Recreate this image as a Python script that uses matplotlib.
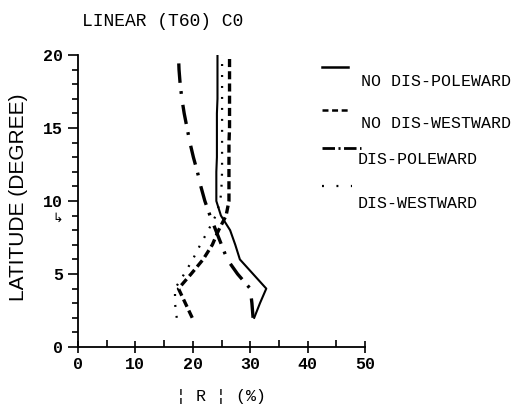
"""
Linear response (T60) C0 : |R| against latitude
"""

import matplotlib
matplotlib.use('Agg')
import matplotlib.pyplot as plt
from matplotlib.lines import Line2D

plt.rcParams['lines.scale_dashes'] = False

#################################
# Data
# -------------------------------

latitude = [2, 3, 4, 5, 6, 7, 8, 9, 10, 11, 12, 13, 14, 15, 16, 17, 18, 19, 20]

nodis_poleward = [30.7, 31.7, 32.8, 30.5, 28.2, 27.4, 26.5, 24.9, 24.1, 24.1, 24.1,
                  24.2, 24.2, 24.2, 24.2, 24.3, 24.3, 24.3, 24.3]
nodis_westward = [19.9, 18.7, 17.5, 19.7, 21.8, 23.4, 24.5, 25.8, 26.3, 26.3, 26.3,
                  26.3, 26.3, 26.4, 26.4, 26.4, 26.4, 26.4, 26.4]
dis_poleward = [30.5, 30.3, 30.0, 27.8, 26.0, 25.0, 24.0, 23.0, 22.1, 21.4, 20.8,
                20.1, 19.5, 19.0, 18.5, 18.1, 17.8, 17.6, 17.5]
dis_westward = [17.2, 16.9, 16.9, 18.5, 20.0, 21.3, 22.7, 24.0, 24.8, 25.0, 25.1,
                25.1, 25.1, 25.1, 25.1, 25.1, 25.1, 25.1, 25.1]

labels = ['NO DIS-POLEWARD', 'NO DIS-WESTWARD', 'DIS-POLEWARD', 'DIS-WESTWARD']
x_ticks = [0, 10, 20, 30, 40, 50]
y_ticks = [0, 5, 10, 15, 20]

styles = [dict(lw=1.5, ls='-'),
          dict(lw=2.4, ls=(0, (5.8, 3.0))),
          dict(lw=2.4, ls=(0, (14, 8, 2, 6))),
          dict(lw=1.6, ls=(0, (1.4, 6.5)))]
# the legend samples are short, so they get their own dash lengths
legend_styles = [dict(lw=1.8, ls='-'),
                 dict(lw=1.8, ls=(0, (4.3, 2.6))),
                 dict(lw=2.0, ls=(0, (9, 2.5, 1.5, 2.5))),
                 dict(lw=1.6, ls=(0, (1.4, 9)))]
legend_len = [26, 26, 39, 30]

#################################
# Figure
# -------------------------------

W, H = 517, 408
fig = plt.figure(figsize=(W / 100, H / 100), dpi=100)
ax = fig.add_axes([78 / W, 1 - 347 / H, (365 - 78) / W, (347 - 55) / H])

series = [nodis_poleward, nodis_westward, dis_poleward, dis_westward]
for vals, st in zip(series, styles):
    ax.plot(vals, latitude, color='black', **st)

ax.set_xlim(0, 50)
ax.set_ylim(0, 20)
ax.set_xticks(x_ticks)
ax.set_yticks(y_ticks)
ax.set_xticks(range(5, 50, 10), minor=True)
ax.set_yticks([v for v in range(0, 21) if v % 5], minor=True)

mono = dict(family='Liberation Mono', fontsize=12, fontweight='bold')
ax.set_xticklabels([str(v) for v in x_ticks], **mono)
ax.set_yticklabels([str(v) for v in y_ticks], **mono)
ax.tick_params(axis='x', which='major', direction='inout', length=9, width=1.2, pad=3)
ax.tick_params(axis='x', which='minor', direction='in', length=5, width=1.2)
ax.tick_params(axis='y', which='major', direction='out', length=7, width=1.2, pad=4)
ax.tick_params(axis='y', which='minor', direction='out', length=4, width=1.2)

for side in ('top', 'right'):
    ax.spines[side].set_visible(False)
for side in ('left', 'bottom'):
    ax.spines[side].set_linewidth(1.3)

fig.text(82 / W, 1 - 22 / H, 'LINEAR (T60) C0', family='Liberation Mono',
         fontsize=13, va='center', ha='left')
fig.text(19 / W, 1 - 197 / H, 'LATITUDE (DEGREE)', family='Liberation Sans',
         fontsize=15, rotation=90, va='center', ha='center')
fig.text(221 / W, 1 - 397 / H, '¦ R ¦ (%)', family='Liberation Mono',
         fontsize=12, va='center', ha='center')
fig.text(58 / W, 1 - 218 / H, '↳', family='DejaVu Sans', fontsize=9,
         va='center', ha='center')

# legend drawn by hand: sample above-left of each label
legend_pos = [(67, 82), (110, 123), (148, 160), (186, 204)]
for (ys, yt), lab, st, ln in zip(legend_pos, labels, legend_styles, legend_len):
    fig.add_artist(Line2D([322 / W, (322 + ln) / W], [1 - ys / H, 1 - ys / H],
                          color='black', **st))
    x0 = 361 if lab.startswith('NO') else 358
    fig.text(x0 / W, 1 - yt / H, lab, family='Liberation Mono', fontsize=12,
             va='center', ha='left')

fig.savefig('out.png', dpi=100)
